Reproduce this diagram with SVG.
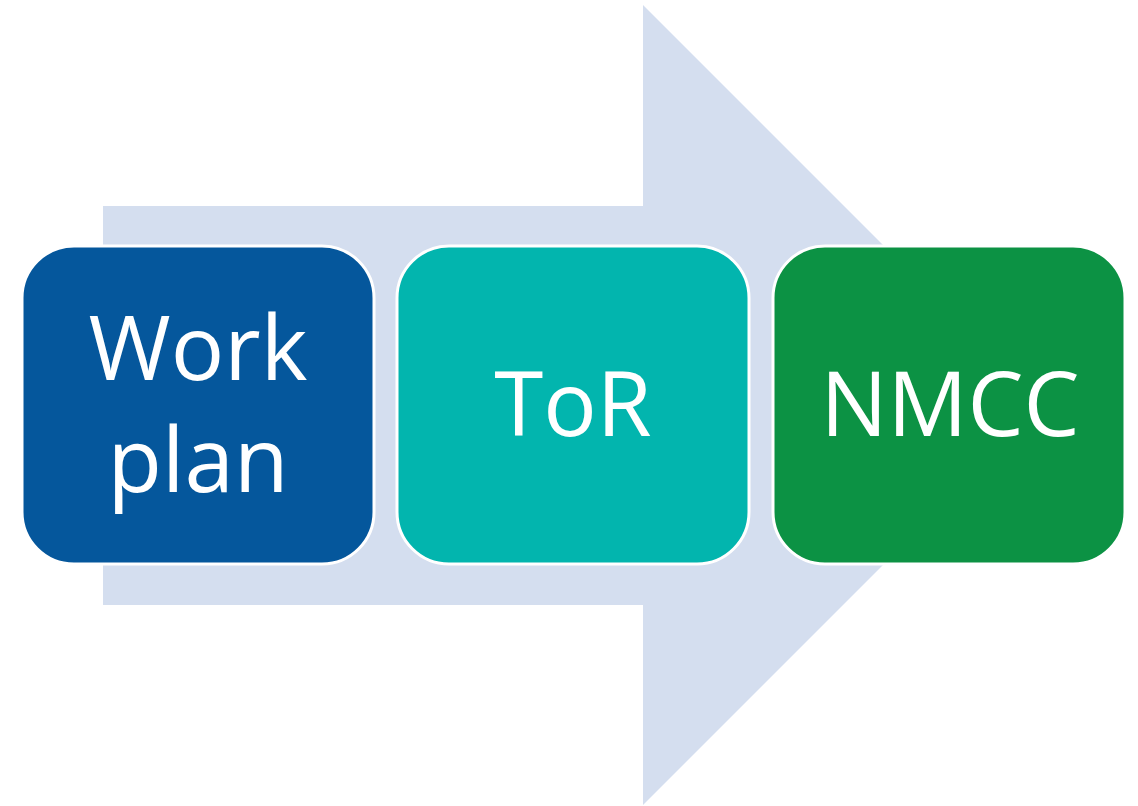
<svg xmlns="http://www.w3.org/2000/svg" width="1138" height="806" viewBox="0 0 1138 806">
<style>
.box{stroke:#FFFFFF;stroke-width:3}
.lbl{font-family:"Open Sans","Liberation Sans",sans-serif;font-size:89px;fill:#FFFFFF;text-anchor:middle}
</style>
<rect width="1138" height="806" fill="#FFFFFF"/>
<g id="connectors">
<polygon id="big-arrow" points="103,206 643,206 643,5 1043,405 643,805 643,605 103,605" fill="#D4DEEF"/>
</g>
<g id="node-workplan">
<rect class="box" x="22" y="246" width="352" height="318" rx="52" fill="#05579C"/>
<text class="lbl" x="198" y="380">Work</text>
<text class="lbl" x="198" y="492">plan</text>
</g>
<g id="node-tor">
<rect class="box" x="397" y="246" width="352" height="318" rx="52" fill="#02B5AE"/>
<text class="lbl" x="573" y="436">ToR</text>
</g>
<g id="node-nmcc">
<rect class="box" x="773" y="246" width="352" height="318" rx="52" fill="#0C9244"/>
<text class="lbl" x="950" y="436">NMCC</text>
</g>
</svg>
